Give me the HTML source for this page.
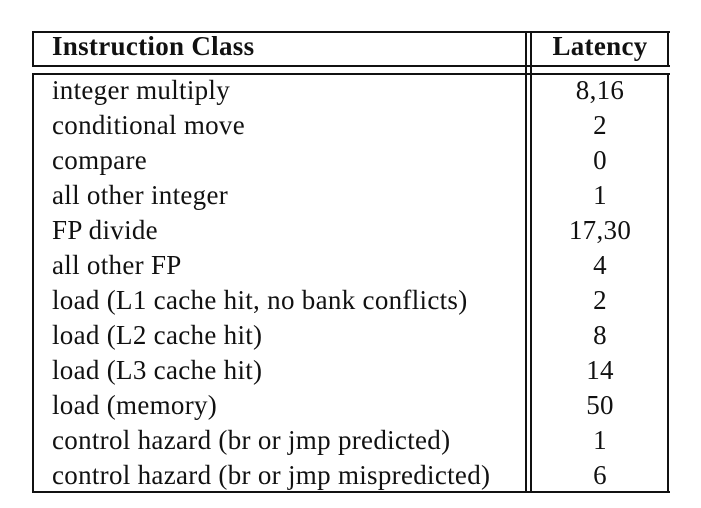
<!DOCTYPE html>
<html><head><meta charset="utf-8"><style>
html,body{margin:0;padding:0;background:#fff;}
#wrap{position:relative;width:701px;height:508px;overflow:hidden;font-family:"Liberation Serif","Times New Roman","DejaVu Serif",serif;color:#111;}
.ln{position:absolute;background:#111;}
.t{position:absolute;font-family:"Liberation Serif","Times New Roman","DejaVu Serif",serif;font-size:27px;line-height:27px;white-space:nowrap;letter-spacing:0.3px;}
.h{font-weight:bold;}
.c{width:138px;left:531px;text-align:center;}
.l{left:52px;}
</style></head><body>
<div id="wrap">
  <div class="ln" style="left:32px;top:31px;width:638px;height:2px"></div>
  <div class="ln" style="left:32px;top:65px;width:638px;height:2px"></div>
  <div class="ln" style="left:32px;top:31px;width:2px;height:36px"></div>
  <div class="ln" style="left:667px;top:31px;width:2px;height:36px"></div>
  <div class="ln" style="left:32px;top:73px;width:638px;height:2px"></div>
  <div class="ln" style="left:32px;top:491px;width:638px;height:2px"></div>
  <div class="ln" style="left:32px;top:73px;width:2px;height:420px"></div>
  <div class="ln" style="left:667px;top:73px;width:2px;height:420px"></div>
  <div class="ln" style="left:525px;top:31px;width:2px;height:462px"></div>
  <div class="ln" style="left:530px;top:31px;width:2px;height:462px"></div>

  <div class="t h l" style="top:33px">Instruction Class</div>
  <div class="t h c" style="top:33px">Latency</div>
</div>
<script>
const classes=["integer multiply","conditional move","compare","all other integer","FP divide","all other FP","load (L1 cache hit, no bank conflicts)","load (L2 cache hit)","load (L3 cache hit)","load (memory)","control hazard (br or jmp predicted)","control hazard (br or jmp mispredicted)"];
const latencies=["8,16","2","0","1","17,30","4","2","8","14","50","1","6"];
const wrap=document.getElementById('wrap');
classes.forEach((c,i)=>{
  const top=77+i*35;
  const a=document.createElement('div');
  a.className='t l';a.style.top=top+'px';a.textContent=c;
  
  
  wrap.appendChild(a);
  const b=document.createElement('div');
  b.className='t c';b.style.top=top+'px';b.textContent=latencies[i];
  
  
  wrap.appendChild(b);
});
</script>
</body></html>
